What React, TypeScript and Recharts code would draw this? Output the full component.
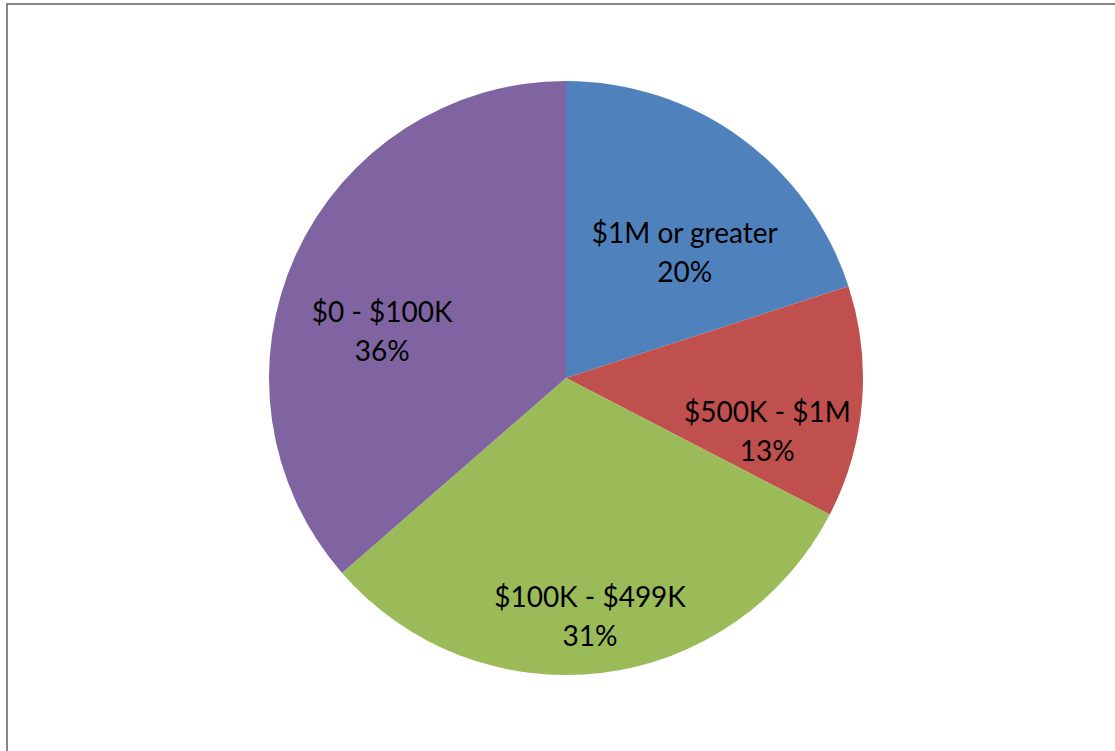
import React from "react";
import { PieChart, Pie, Cell } from "recharts";

const categories = ["$1M or greater", "$500K - $1M", "$100K - $499K", "$0 - $100K"];
const shares = [20, 12.6, 31, 36.4];
const colors = ["#4F81BD", "#C0504D", "#9BBB59", "#8064A2"];

const data = categories.map((name, i) => ({ name, value: shares[i] }));

const RAD = Math.PI / 180;

// label box hangs below the anchor point on the slice's mid angle
const renderLabel = (props: any) => {
  const { cx, cy, midAngle, outerRadius, percent, name } = props;
  const r = outerRadius * 0.68;
  const x = cx + r * Math.cos(-midAngle * RAD);
  const y = cy + r * Math.sin(-midAngle * RAD);
  return (
    <text
      x={x}
      y={y}
      textAnchor="middle"
      fill="#000"
      fontFamily="Lato, 'Open Sans', sans-serif"
      fontSize={28}
    >
      <tspan x={x} y={y + 28}>
        {name}
      </tspan>
      <tspan x={x} y={y + 67}>
        {`${Math.round(percent * 100)}%`}
      </tspan>
    </text>
  );
};

const App: React.FC = () => {
  return (
    <div
      style={{
        position: "absolute",
        left: 0,
        top: 0,
        width: 1115,
        height: 751,
        overflow: "hidden",
        background: "#fff",
      }}
    >
      {/* chart frame, only the top and left edges are in view */}
      <div
        style={{
          position: "absolute",
          left: 6,
          top: 3,
          width: 1200,
          height: 800,
          border: "2px solid #878787",
        }}
      />
      <div style={{ position: "absolute", left: 0, top: 0 }}>
        <PieChart width={1115} height={751} margin={{ top: 0, right: 0, bottom: 0, left: 0 }}>
          <Pie
            data={data}
            dataKey="value"
            nameKey="name"
            cx={566}
            cy={378}
            outerRadius={297}
            startAngle={90}
            endAngle={-270}
            stroke="none"
            label={renderLabel}
            labelLine={false}
            isAnimationActive={false}
          >
            {data.map((d, i) => (
              <Cell key={d.name} fill={colors[i]} />
            ))}
          </Pie>
        </PieChart>
      </div>
    </div>
  );
};

export default App;
